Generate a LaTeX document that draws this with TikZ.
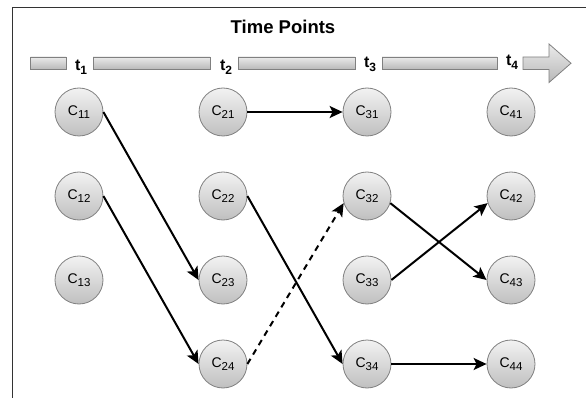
\documentclass[tikz,border=0pt]{standalone}
\usepackage{fontspec}
\setmainfont{Liberation Sans}
\usetikzlibrary{arrows.meta}

% subscript for cluster labels and time labels
\newcommand\csub[1]{\raisebox{-2.8pt}{\fontsize{11.5}{12}\selectfont #1}}
\newcommand\tlabel[1]{{\fontsize{16}{16}\selectfont\bfseries t\raisebox{-4pt}{\fontsize{12}{12}\selectfont\bfseries #1}}}

\definecolor{framecol}{HTML}{333333}
\definecolor{rimcol}{HTML}{808080}

\tikzset{
  cluster/.style={circle, minimum size=48pt, inner sep=0pt, draw=rimcol, line width=0.8pt,
    top color=black!5, bottom color=black!25, font=\fontsize{14}{14}\selectfont},
  band/.style={draw=rimcol, line width=0.8pt, top color=black!8, bottom color=black!28},
  link/.style={line width=2pt, -{Stealth[length=13pt,width=12pt,inset=3pt]}},
  dashedlink/.style={link, dash pattern=on 6pt off 5pt},
}

\begin{document}
\begin{tikzpicture}[x=1pt, y=-1pt]
\useasboundingbox (0,0) rectangle (586,398);

% frame
\draw[framecol, line width=1pt] (12.7,398) -- (12.7,7.5) -- (586,7.5);

% title
\node[font=\fontsize{18.5}{18.5}\selectfont\bfseries, anchor=base] (title) at (283,34) {Time Points};

% time axis
\draw[band] (30.7,57) rectangle (66,69.5);
\draw[band] (93,57) rectangle (210,69.5);
\draw[band] (238,57) rectangle (355,69.5);
\draw[band] (382,57) rectangle (497,69.5);
\draw[band] (523,57) -- (549,57) -- (549,44) -- (571,63.25) -- (549,82.5) -- (549,69.5) -- (523,69.5) -- cycle;

\node[anchor=base] (t1) at (81,70.5) {\tlabel{1}};
\node[anchor=base] (t2) at (226,70.5) {\tlabel{2}};
\node[anchor=base] (t3) at (370,68) {\tlabel{3}};
\node[anchor=base] (t4) at (512,66) {\tlabel{4}};

% clusters
\node[cluster] (C11) at (79,112) {C\csub{11}};
\node[cluster] (C12) at (79,196) {C\csub{12}};
\node[cluster] (C13) at (79,280) {C\csub{13}};

\node[cluster] (C21) at (223,112) {C\csub{21}};
\node[cluster] (C22) at (223,196) {C\csub{22}};
\node[cluster] (C23) at (223,280) {C\csub{23}};
\node[cluster] (C24) at (223,364) {C\csub{24}};

\node[cluster] (C31) at (367,112) {C\csub{31}};
\node[cluster] (C32) at (367,196) {C\csub{32}};
\node[cluster] (C33) at (367,280) {C\csub{33}};
\node[cluster] (C34) at (367,364) {C\csub{34}};

\node[cluster] (C41) at (511,112) {C\csub{41}};
\node[cluster] (C42) at (511,196) {C\csub{42}};
\node[cluster] (C43) at (511,280) {C\csub{43}};
\node[cluster] (C44) at (511,364) {C\csub{44}};

% transitions
\draw[link] (C11.east) -- (C23.west);
\draw[link] (C12.east) -- (C24.west);
\draw[link] (C21.east) -- (C31.west);
\draw[link] (C22.east) -- (C34.west);
\draw[dashedlink] (C24.east) -- (C32.197);
\draw[link] (C32.-17) -- (C43.west);
\draw[link] (C33.east) -- (C42.197);
\draw[link] (C34.east) -- (C44.west);
\end{tikzpicture}
\end{document}
